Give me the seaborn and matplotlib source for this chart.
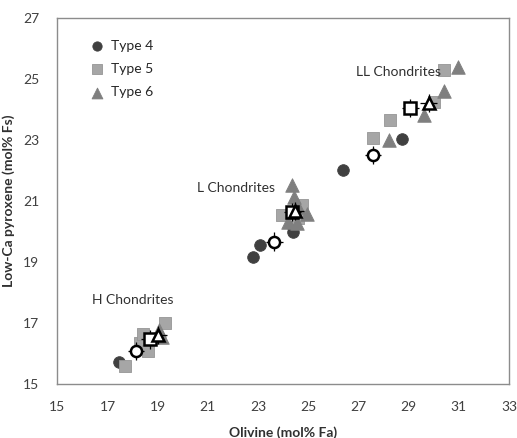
import matplotlib
matplotlib.use("Agg")
import matplotlib.pyplot as plt
import seaborn as sns
import pandas as pd

# ---- data ----
type4_fa = [17.47, 22.80, 23.08, 24.38, 24.38, 26.40, 28.74]
type4_fs = [15.73, 19.15, 19.56, 19.98, 20.14, 22.02, 23.02]

type5_fa = [17.70, 18.30, 18.42, 18.60, 19.29, 23.95, 24.35, 24.60, 24.75, 27.58, 28.24, 30.00, 30.40]
type5_fs = [15.60, 16.35, 16.63, 16.08, 17.00, 20.54, 20.62, 20.45, 20.87, 23.06, 23.66, 24.26, 25.30]

type6_fa = [19.05, 19.16, 24.21, 24.37, 24.45, 24.55, 24.60, 24.96, 28.20, 29.60, 30.42, 30.96]
type6_fs = [16.78, 16.55, 20.30, 21.52, 21.12, 20.27, 20.80, 20.57, 23.00, 23.82, 24.62, 25.40]

mean4_fa = [18.13, 23.65, 27.58]
mean4_fs = [16.08, 19.67, 22.50]
mean5_fa = [18.68, 24.37, 29.07]
mean5_fs = [16.46, 20.63, 24.04]
mean6_fa = [19.03, 24.48, 29.80]
mean6_fs = [16.60, 20.67, 24.22]
err_fa = 0.33
err_fs = 0.30

groups = ["H Chondrites", "L Chondrites", "LL Chondrites"]
group_x = [18.0, 22.1, 28.6]
group_y = [17.75, 21.43, 25.24]

x_ticks = [15, 17, 19, 21, 23, 25, 27, 29, 31, 33]
y_ticks = [15, 17, 19, 21, 23, 25, 27]

# ---- table ----
df = pd.DataFrame({
    "fa": type4_fa + type5_fa + type6_fa,
    "fs": type4_fs + type5_fs + type6_fs,
    "type": ["Type 4"] * len(type4_fa) + ["Type 5"] * len(type5_fa) + ["Type 6"] * len(type6_fa),
})

sns.set_style("white")
plt.rcParams["font.family"] = ["Lato", "DejaVu Sans"]

fig = plt.figure(figsize=(5.17, 4.38), dpi=100)
ax = fig.add_axes([0.111, 0.1233, 0.8735, 0.8356])

palette = {"Type 4": "#404040", "Type 5": "#a6a6a6", "Type 6": "#7f7f7f"}
markers = {"Type 4": "o", "Type 5": "s", "Type 6": "^"}
sizes = {"Type 4": 70, "Type 5": 75, "Type 6": 95}
for t in ["Type 4", "Type 5", "Type 6"]:
    sub = df[df["type"] == t]
    sns.scatterplot(data=sub, x="fa", y="fs", color=palette[t], marker=markers[t],
                    s=sizes[t], edgecolor=palette[t] if t != "Type 5" else "#969696",
                    linewidth=0.6, ax=ax, label=t, zorder=3)

for mx, my, mk, ms in [(mean4_fa, mean4_fs, "o", 8.0), (mean5_fa, mean5_fs, "s", 8.0), (mean6_fa, mean6_fs, "^", 9.0)]:
    ax.errorbar(mx, my, xerr=err_fa, yerr=err_fs, fmt=mk, mfc="white", mec="black",
                mew=1.8, ms=ms, ecolor="black", elinewidth=0.9, capsize=0, zorder=5)

for g, gx, gy in zip(groups, group_x, group_y):
    ax.text(gx, gy, g, ha="center", va="center", fontsize=10, color="#303030")

ax.set_xlim(15, 33)
ax.set_ylim(15, 27)
ax.set_xticks(x_ticks)
ax.set_yticks(y_ticks)
ax.tick_params(length=0, labelsize=10, colors="#404040", pad=12)
ax.tick_params(axis="y", pad=13)
ax.set_xlabel("Olivine (mol% Fa)", fontsize=10, fontweight="bold", color="#303030", labelpad=10)
ax.set_ylabel("Low-Ca pyroxene (mol% Fs)", fontsize=10, fontweight="bold", color="#303030", labelpad=6)
for s in ax.spines.values():
    s.set_color("#8c8c8c")
    s.set_linewidth(1.0)

leg = ax.legend(loc="upper left", bbox_to_anchor=(0.045, 0.955), frameon=False,
                fontsize=10, handletextpad=0.0, labelspacing=0.8, markerscale=0.8,
                borderaxespad=0)

fig.savefig("out.png", dpi=100)
